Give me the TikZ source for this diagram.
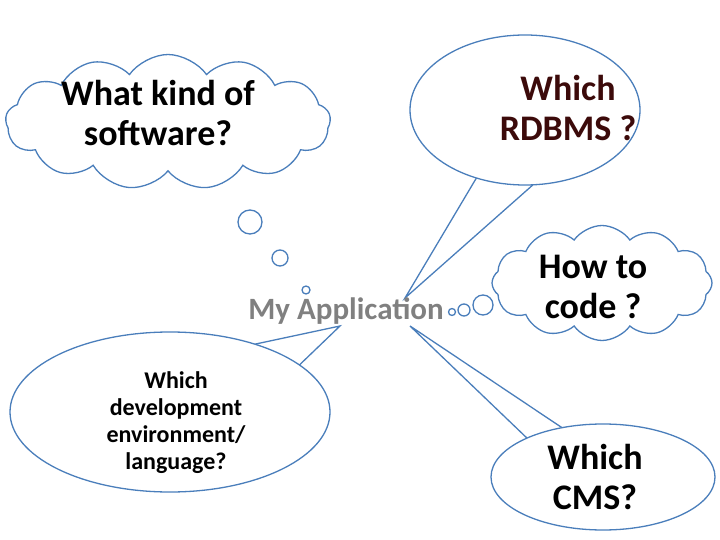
\documentclass[tikz,border=0pt]{standalone}
\usepackage{fontspec}
\setmainfont{Carlito}
\usetikzlibrary{shapes.symbols}
\definecolor{bl}{HTML}{4A7EBB}
\begin{document}
\begin{tikzpicture}[x=1pt,y=-1pt,
  ln/.style={draw=bl,line width=1.3pt},
  bub/.style={ln,fill=white},
  cl/.style={cloud,cloud puffs=13,cloud puff arc=110,ln,fill=white,inner sep=0pt},
  big/.style={font=\bfseries\fontsize{36}{40}\selectfont,align=center,text=black},
  mid/.style={font=\bfseries\fontsize{24}{27}\selectfont,align=center,text=black}]
\useasboundingbox (0,0) rectangle (720,540);
% top-left cloud
\node[cl,minimum width=325pt,minimum height=135pt] (c1) at (168,122) {};
\node[big] (t1) at (158,113) {What kind of\\software?};
\draw[bub] (250,222) circle (12) (280,258) circle (8) (306,290) circle (4);
% top-right speech
\path[bub] (525,110) ellipse (115 and 75);
\coordinate (tip1) at (405,298);
\fill[white] (tip1) -- (476.4,178) -- (470.6,186.1) -- (501.5,192.6) -- (534,193.8) -- (533,184.8) -- cycle;
\draw[ln] (476.4,178) -- (tip1) -- (533,184.8);
\node[big,text={rgb,255:red,60;green,10;blue,10}] (t2) at (568,108) {Which\\RDBMS ?};
% right cloud
\node[cl,cloud puffs=12,minimum width=220pt,minimum height=115pt] (c2) at (602,283) {};
\draw[bub] (483,305) circle (10) (464,310) circle (6) (452,312) circle (3.5);
\node[big] (t3) at (593,287) {How to\\code ?};
% my application
\node[font=\bfseries\fontsize{31}{33}\selectfont,text={rgb,255:red,128;green,128;blue,128}] (app) at (346,311) {My Application};
% bottom-left speech
\path[bub] (170,412) ellipse (160 and 80);
\coordinate (tip2) at (340,326);
\fill[white] (tip2) -- (254.8,344.2) -- (265,336) -- (292.2,346.5) -- (315,359.3) -- (299.4,365) -- cycle;
\draw[ln] (254.8,344.2) -- (tip2) -- (299.4,365);
\node[mid] (t4) at (176,423) {Which\\development\\environment/\\language?};
% bottom-right speech
\path[bub] (603,477) ellipse (112 and 53);
\coordinate (tip3) at (410,326);
\fill[white] (tip3) -- (527,438.1) -- (518,433.4) -- (536.5,426.6) -- (557.1,421.8) -- (562,427.7) -- cycle;
\draw[ln] (562,427.7) -- (tip3) -- (527,438.1);
\node[big] (t5) at (595,477) {Which\\CMS?};
\end{tikzpicture}
\end{document}
